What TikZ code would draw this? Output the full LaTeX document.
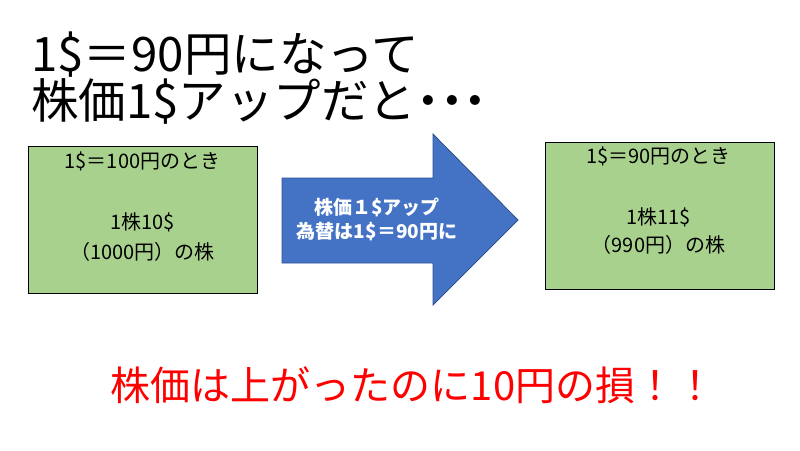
\documentclass[tikz,border=0pt]{standalone}
\usepackage{fontspec}
\setmainfont{Noto Sans CJK JP}
\usetikzlibrary{positioning}

\definecolor{boxgreen}{HTML}{A9D18E}
\definecolor{arrowblue}{HTML}{4472C4}
\definecolor{arrowedge}{HTML}{2F528F}
\definecolor{lossred}{HTML}{FF0000}

\begin{document}
\begin{tikzpicture}[
    x=1pt, y=-1pt,
    headline/.style={font=\fontsize{47.5}{52}\selectfont, anchor=west, inner sep=0pt},
    pricebox/.style={draw=black, line width=1.2pt, fill=boxgreen, anchor=north west,
                     inner sep=0pt, minimum width=229pt, minimum height=147pt},
    boxtext/.style={font=\fontsize{20}{24}\selectfont, inner sep=0pt},
    arrowtext/.style={font=\bfseries\fontsize{19}{22}\selectfont, text=white, inner sep=0pt},
    losstext/.style={font=\fontsize{40}{46}\selectfont, text=lossred, inner sep=0pt},
]

\useasboundingbox (0,0) rectangle (800,450);

% Headline
\node[headline] (head1) at (31,55) {1\$＝90円になって};
\node[headline] (head2) at (31,101) {株価1\$アップだと\textbf{･･･}};

% Before: 1$ = 100 yen
\node[pricebox] (before) at (28,146) {};
\node[boxtext] (beforerate) at (142.5,161) {1\$＝100円のとき};
\node[boxtext] (beforeprice) at (142.5,222) {1株10\$};
\node[boxtext] (beforeyen) at (142.5,252) {（1000円）の株};

% Arrow
\filldraw[fill=arrowblue, draw=arrowedge, line width=0.8pt]
    (282,178) -- (433,178) -- (433,134) -- (518,220) -- (433,305) -- (433,263) -- (282,263) -- cycle;
\node[arrowtext] (shift1) at (377,207) {株価１\$アップ};
\node[arrowtext] (shift2) at (377,232) {為替は1\$＝90円に};

% After: 1$ = 90 yen
\node[pricebox] (after) at (545,142) {};
\node[boxtext] (afterrate) at (658.5,156) {1\$＝90円のとき};
\node[boxtext] (afterprice) at (658.5,217) {1株11\$};
\node[boxtext] (afteryen) at (658.5,245) {（990円）の株};

% Result
\node[losstext] (loss) at (413,385) {株価は上がったのに10円の損！！};

\end{tikzpicture}
\end{document}
